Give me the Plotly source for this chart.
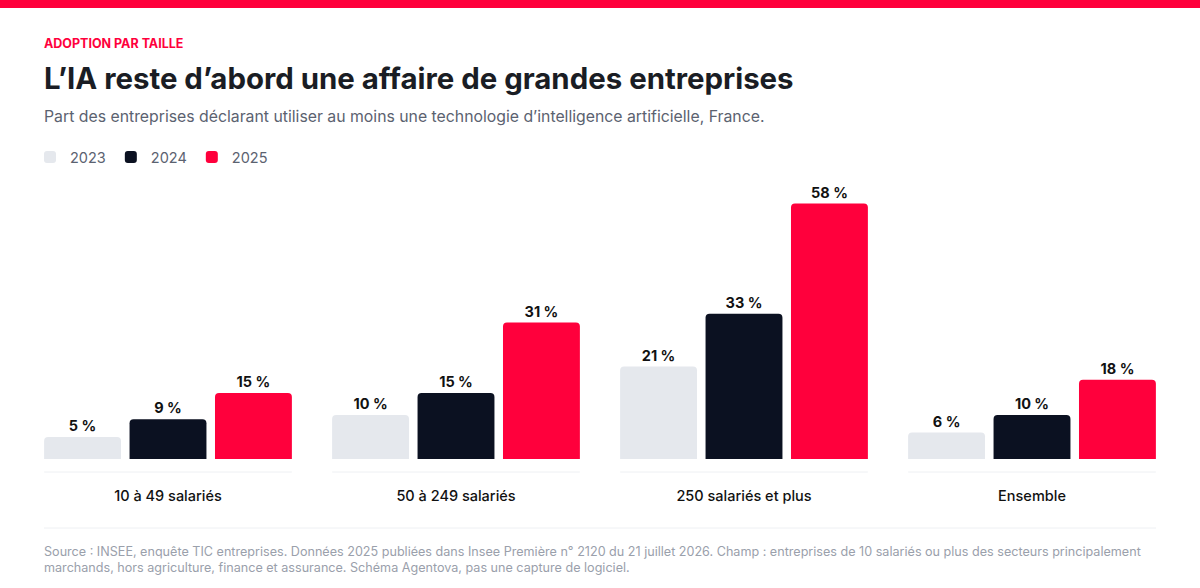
import plotly.graph_objects as go

categories = ["10 à 49 salariés", "50 à 249 salariés", "250 salariés et plus", "Ensemble"]
years = ["2023", "2024", "2025"]
values = {
    "2023": [5, 10, 21, 6],
    "2024": [9, 15, 33, 10],
    "2025": [15, 31, 58, 18],
}
colors = {"2023": "#e5e8ed", "2024": "#0b1121", "2025": "#ff003c"}

FONT = "Inter"
PW, PH = 1152, 273  # plot area in px
L0 = 18 / PW        # left edge of text block in paper coords

fig = go.Figure()
for y in years:
    fig.add_trace(go.Bar(
        x=categories, y=values[y], name=y,
        marker=dict(color=colors[y], line=dict(width=0)),
        text=[f"{v} %" for v in values[y]], textposition="outside",
        textfont=dict(family=FONT, size=14.5, color="#111111", weight="bold"),
        cliponaxis=False,
    ))

shapes = [
    dict(type="rect", xref="paper", yref="paper", x0=-0.05, x1=1.05,
         y0=1 + 178 / PH, y1=1 + 186 / PH, fillcolor="#ff003c", line_width=0),
    dict(type="line", xref="paper", yref="paper", x0=20 / PW, x1=1 - 20 / PW,
         y0=-69 / PH, y1=-69 / PH, line=dict(color="#eef0f3", width=1)),
]
for i in range(len(categories)):
    shapes.append(dict(type="line", xref="x", yref="paper", x0=i - 0.43, x1=i + 0.43,
                       y0=-13 / PH, y1=-13 / PH, line=dict(color="#eef0f3", width=1)))

fig.update_layout(
    width=1200, height=588,
    margin=dict(l=24, r=24, t=186, b=129),
    paper_bgcolor="white", plot_bgcolor="white",
    barmode="group", bargap=0.11, bargroupgap=0.1, barcornerradius=4,
    font=dict(family=FONT),
    showlegend=True,
    legend=dict(orientation="h", x=6 / PW, xanchor="left", y=1 + 29 / PH, yanchor="middle",
                font=dict(size=14.5, color="#5b6270"), itemwidth=30, traceorder="normal"),
    xaxis=dict(showgrid=False, showline=False, ticks="", ticklabelstandoff=26,
               tickfont=dict(size=14.5, color="#111111", weight=500)),
    yaxis=dict(range=[0, 62], visible=False),
    shapes=shapes,
    annotations=[
        dict(text="ADOPTION PAR TAILLE", xref="paper", yref="paper", x=L0, y=1 + 143 / PH,
             xanchor="left", yanchor="middle", showarrow=False,
             font=dict(size=12.5, color="#ff003c", weight="bold")),
        dict(text="L’IA reste d’abord une affaire de grandes entreprises", xref="paper", yref="paper",
             x=L0, y=1 + 108 / PH, xanchor="left", yanchor="middle", showarrow=False,
             font=dict(size=29.4, color="#1a1d24", weight="bold")),
        dict(text="Part des entreprises déclarant utiliser au moins une technologie d’intelligence artificielle, France.",
             xref="paper", yref="paper", x=L0, y=1 + 70 / PH, xanchor="left", yanchor="middle",
             showarrow=False, font=dict(size=15.8, color="#5b6270")),
        dict(text="Source : INSEE, enquête TIC entreprises. Données 2025 publiées dans Insee Première n° 2120 du 21 juillet 2026. Champ : entreprises de 10 salariés ou plus des secteurs principalement<br>marchands, hors agriculture, finance et assurance. Schéma Agentova, pas une capture de logiciel.",
             xref="paper", yref="paper", x=L0, y=-83 / PH, xanchor="left", yanchor="top", align="left",
             showarrow=False, font=dict(size=12.6, color="#9aa0ab")),
    ],
)

fig.write_html("out.html", config={"displayModeBar": False},
               post_script="document.body.style.margin='0';")
